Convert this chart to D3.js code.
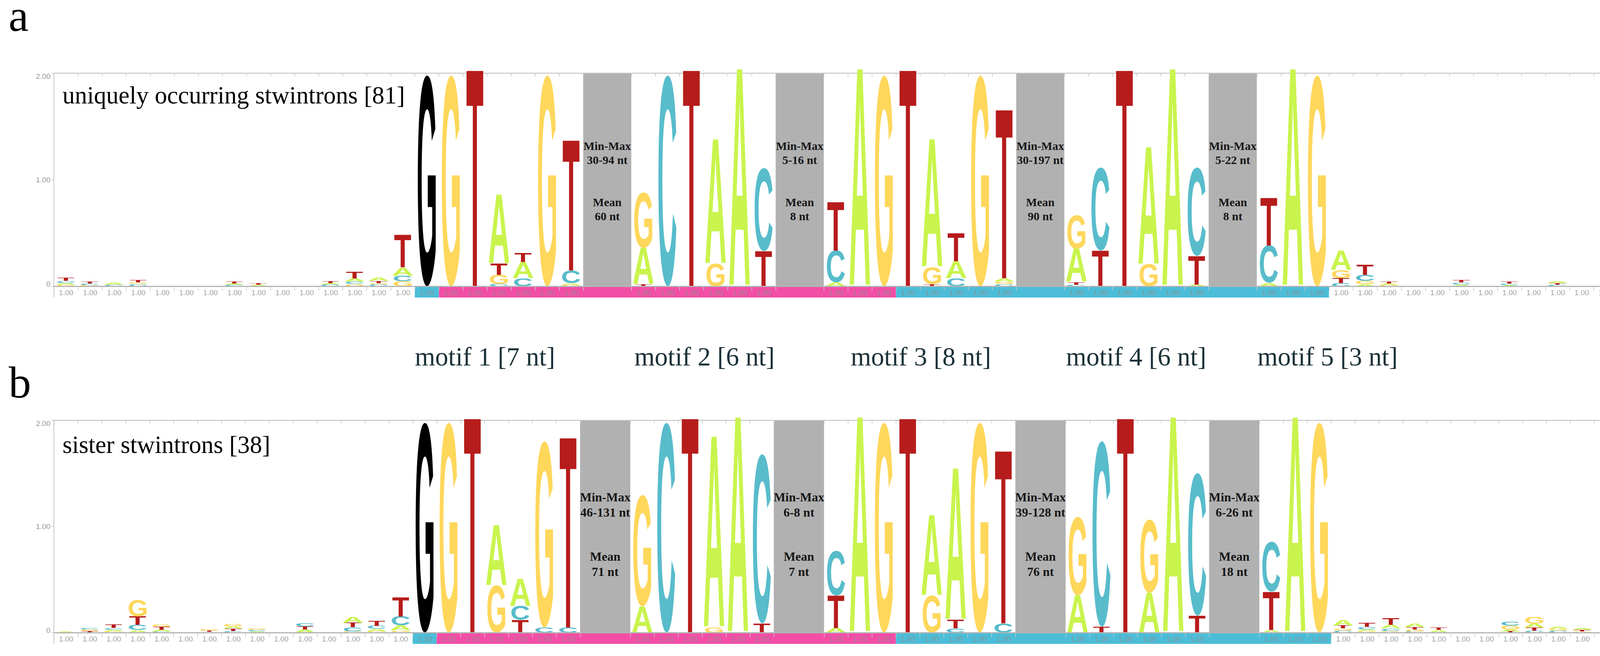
<!DOCTYPE html>
<html><head><meta charset="utf-8">
<script src="https://cdn.jsdelivr.net/npm/d3@7"></script>
<style>html,body{margin:0;padding:0;background:#fff} svg{display:block}</style>
</head><body>
<script>
// ---------------- DATA ----------------
// each column: stack of [letter, height in bits], listed bottom -> top
const preA = [
  [["G",.015],["A",.015],["C",.02],["T",.03]],
  [["G",.012],["C",.015],["T",.02]],
  [["C",.015],["A",.02]],
  [["C",.02],["G",.015],["T",.025]],
  [], [], [],
  [["C",.015],["A",.01],["T",.02]],
  [["A",.015],["T",.012]],
  [], [],
  [["C",.02],["A",.01],["T",.02]],
  [["G",.02],["C",.025],["A",.03],["T",.062]],
  [["C",.02],["G",.01],["T",.02],["A",.028]],
  [["G",.046],["C",.053],["A",.075],["T",.305]]
];
const motif1A = [
  [["G",1.98]], [["G",1.98]], [["T",2.04]],
  [["C",.022],["G",.084],["T",.107],["A",.65]],
  [["C",.075],["A",.153],["T",.083]],
  [["G",1.98]],
  [["G",.012],["A",.015],["C",.12],["T",1.23]]
];
const motif2A = [
  [["T",.02],["A",.34],["G",.52]],
  [["C",1.98]], [["T",2.04]],
  [["G",.21],["A",1.17]],
  [["A",2.04]],
  [["T",.33],["C",.78]]
];
const motif3A = [
  [["A",.035],["C",.30],["T",.46]],
  [["A",2.04]], [["G",1.98]], [["T",2.04]],
  [["T",.02],["G",.16],["A",1.2]],
  [["C",.075],["A",.16],["T",.265]],
  [["G",1.98]],
  [["C",.02],["G",.025],["A",.03],["T",1.59]]
];
const motif4A = [
  [["C",.015],["T",.025],["A",.31],["G",.315]],
  [["T",.335],["C",.78]],
  [["T",2.04]],
  [["G",.205],["A",1.1]],
  [["A",2.04]],
  [["A",.015],["T",.27],["C",.83]]
];
const motif5A = [
  [["A",.03],["C",.35],["T",.45]],
  [["A",2.04]], [["G",1.98]]
];
const postA = [
  [["C",.03],["T",.045],["G",.077],["A",.18]],
  [["A",.02],["G",.03],["C",.055],["T",.095]],
  [["G",.015],["A",.01],["T",.02]],
  [], [],
  [["A",.015],["C",.02],["T",.025]],
  [],
  [["A",.01],["C",.015],["T",.02]],
  [],
  [["C",.015],["T",.015],["A",.02]],
  [], [], [], [], []
];

const preB = [
  [["A",.01]],
  [["T",.015],["G",.016],["C",.016]],
  [["G",.012],["A",.015],["C",.016],["T",.033]],
  [["A",.025],["C",.049],["T",.08],["G",.156]],
  [["C",.01],["A",.017],["T",.028],["G",.025]],
  [],
  [["A",.006],["T",.012],["G",.012]],
  [["C",.015],["T",.022],["A",.022],["G",.025]],
  [["A",.01],["C",.015],["G",.015]],
  [],
  [["A",.03],["T",.028],["C",.027]],
  [],
  [["G",.012],["C",.039],["T",.04],["A",.058]],
  [["G",.012],["A",.025],["C",.027],["T",.049]],
  [["G",.02],["A",.047],["C",.085],["T",.178]]
];
const motif1B = [
  [["G",1.978]], [["G",1.978]], [["T",2.03]],
  [["G",.446],["A",.567]],
  [["T",.12],["C",.128],["A",.255]],
  [["C",.048],["G",1.757]],
  [["C",.048],["T",1.798]]
];
const motif2B = [
  [["A",.247],["G",1.05]],
  [["C",1.978]], [["T",2.03]],
  [["G",.048],["A",1.8]],
  [["A",2.03]],
  [["T",.087],["C",1.595]]
];
const motif3B = [
  [["A",.04],["T",.31],["C",.42]],
  [["A",2.03]], [["G",1.978]], [["T",2.03]],
  [["G",.35],["A",.757]],
  [["C",.04],["T",.08],["A",1.427]],
  [["G",1.978]],
  [["C",.087],["T",1.634]]
];
const motif4B = [
  [["A",.35],["G",.74]],
  [["T",.055],["C",1.75]],
  [["T",2.03]],
  [["A",.375],["G",.69]],
  [["A",2.03]],
  [["T",.16],["C",1.343]]
];
const motif5B = [
  [["A",.024],["T",.362],["C",.47]],
  [["A",2.03]], [["G",1.978]]
];
const postB = [
  [["C",.018],["G",.021],["T",.028],["A",.053]],
  [["G",.015],["A",.015],["C",.025],["T",.037]],
  [["G",.015],["C",.025],["A",.034],["T",.061]],
  [["C",.012],["G",.018],["T",.021],["A",.032]],
  [["A",.025],["T",.025]],
  [], [],
  [["T",.012],["A",.018],["G",.037],["C",.037]],
  [["C",.018],["T",.028],["A",.039],["G",.064]],
  [["C",.018],["G",.018],["A",.018]],
  [["G",.01],["T",.015],["A",.016]],
  [],
  [["C",.01],["A",.012],["T",.029],["G",.028]],
  [["T",.018],["C",.043],["G",.059],["A",.1]],
  []
];

const gapRangeA = ["30-94 nt","5-16 nt","30-197 nt","5-22 nt"];
const gapMeanA  = ["60 nt","8 nt","90 nt","8 nt"];
const gapRangeB = ["46-131 nt","6-8 nt","39-128 nt","6-26 nt"];
const gapMeanB  = ["71 nt","7 nt","76 nt","18 nt"];

const motifLabels = ["motif 1 [7 nt]","motif 2 [6 nt]","motif 3 [8 nt]","motif 4 [6 nt]","motif 5 [3 nt]"];
const titleA = "uniquely occurring stwintrons [81]";
const titleB = "sister stwintrons [38]";
const yTicks = [0, 1, 2];
const occupancyLabel = "1.00";
// column-index ranges of the coloured strip under the axis
const stripBands = [[15,15,"blue"],[16,30,"pink"],[31,44,"blue"]];

// ---------------- STYLE ----------------
const W = 4368, H = 1680;
const letterColor = {A:"#c9f44d", C:"#58bccb", G:"#fed75b", T:"#b61c1b"};
const letterWidth = {A:0.86, C:0.75, G:0.75, T:0.70};
const stripColor = {blue:"#4cbdd8", pink:"#f24ea6"};
const LETTER_FONT = "'Liberation Sans', Arial, sans-serif";
const SERIF = "'Liberation Serif', 'Times New Roman', serif";
const SANS = "'Liberation Sans', Arial, sans-serif";

const svg = d3.select("body").append("svg").attr("width", W).attr("height", H);
svg.append("rect").attr("width", W).attr("height", H).attr("fill", "#fff");

// tight ink boxes of glyphs
const ctx = document.createElement("canvas").getContext("2d");
ctx.font = `bold 200px ${LETTER_FONT}`;
const ink = {};
["A","C","G","T"].forEach(L => {
  const m = ctx.measureText(L);
  ink[L] = {l: -m.actualBoundingBoxLeft, r: m.actualBoundingBoxRight,
            t: -m.actualBoundingBoxAscent, b: m.actualBoundingBoxDescent};
});

function drawPanel(cfg) {
  const g = svg.append("g");
  const segs = [cfg.pre, ...cfg.motifs, cfg.post];
  const cols = [], gaps = [];
  let u = 0;
  segs.forEach((seg, si) => {
    seg.forEach(stack => { cols.push({stack, u0: u}); u += 1; });
    if (si >= 1 && si <= 4) { gaps.push({u0: u, u1: u + cfg.gapW}); u += cfg.gapW; }
  });
  const x = d3.scaleLinear().domain([0, u]).range([138, 4326]);
  const y = d3.scaleLinear().domain([0, 2]).range([cfg.base, cfg.top]);
  const colW = x(1) - x(0);

  // gray gap boxes
  g.selectAll("rect.gap").data(gaps).join("rect")
    .attr("x", d => x(d.u0)).attr("width", d => x(d.u1) - x(d.u0))
    .attr("y", cfg.top).attr("height", cfg.base - cfg.top)
    .attr("fill", "#b1b1b1");

  // coloured strip
  g.selectAll("rect.strip").data(stripBands).join("rect")
    .attr("x", d => x(cols[d[0]].u0)).attr("width", d => x(cols[d[1]].u0 + 1) - x(cols[d[0]].u0))
    .attr("y", cfg.base + 1).attr("height", 28)
    .attr("fill", d => stripColor[d[2]]);

  const bounds = Array.from(new Set(cols.flatMap(c => [c.u0, c.u0 + 1])));

  // top frame line + ticks
  const top = g.append("g").attr("transform", `translate(0,${cfg.top})`)
    .call(d3.axisBottom(x).tickValues(bounds).tickSize(9).tickSizeOuter(0).tickFormat(""));
  top.select(".domain").attr("stroke", "#c6c6c6").attr("stroke-width", 2.5);
  top.selectAll(".tick line").attr("stroke", "#c6c6c6").attr("stroke-width", 1.5);

  // letters
  cols.forEach((c, ci) => {
    let acc = 0;
    c.stack.forEach(([L, v]) => {
      const y0 = y(acc + v), y1 = y(acc);
      acc += v;
      const h = y1 - y0;
      if (h <= 0) return;
      const w = letterWidth[L] * colW;
      const x0 = x(c.u0 + 0.5) - w / 2;
      const b = ink[L];
      g.append("text")
        .attr("font-family", LETTER_FONT).attr("font-weight", "bold").attr("font-size", 200)
        .attr("fill", (ci === 15 && L === "G") ? "#000" : letterColor[L])
        .attr("transform", `translate(${x0},${y0}) scale(${w/(b.r-b.l)},${h/(b.b-b.t)}) translate(${-b.l},${-b.t})`)
        .text(L);
    });
  });

  // baseline + lower ticks
  const bot = g.append("g").attr("transform", `translate(0,${cfg.base})`)
    .call(d3.axisBottom(x).tickValues(bounds).tickSize(12).tickSizeOuter(0).tickFormat(""));
  bot.select(".domain").attr("stroke", "#b4b4b4").attr("stroke-width", 3);
  bot.selectAll(".tick line").attr("stroke", "#c8c8c8").attr("stroke-width", 1.5);

  // occupancy labels
  const lab = g.append("g").attr("transform", `translate(0,${cfg.base})`)
    .call(d3.axisBottom(x).tickValues(cols.map(c => c.u0 + 0.5)).tickSize(0).tickFormat(() => occupancyLabel));
  lab.select(".domain").remove();
  lab.selectAll("text").attr("y", 16).attr("dy", "0.35em")
    .attr("font-family", SANS).attr("font-size", 19).attr("fill", "#8f8f8f").attr("fill-opacity", 0.85);

  // y axis
  g.append("line").attr("x1", 138).attr("x2", 138).attr("y1", cfg.top).attr("y2", cfg.base + 28)
    .attr("stroke", "#c6c6c6").attr("stroke-width", 2);
  const ya = g.append("g").attr("transform", "translate(138,0)")
    .call(d3.axisLeft(y).tickValues(yTicks).tickSize(6).tickSizeOuter(0)
      .tickFormat(d => d === 0 ? "0" : d3.format(".2f")(d)));
  ya.select(".domain").remove();
  ya.selectAll(".tick line").attr("stroke", "#b8b8b8").attr("stroke-width", 1.5);
  ya.selectAll("text").attr("font-family", SANS).attr("font-size", 19).attr("fill", "#999")
    .attr("dy", d => d === 2 ? "0.74em" : d === 0 ? "0.02em" : "0.32em");

  // gap annotations
  gaps.forEach((gp, i) => {
    const lines = ["Min-Max", cfg.gapRange[i], "Mean", cfg.gapMean[i]];
    const cx = x((gp.u0 + gp.u1) / 2);
    lines.forEach((t, k) => {
      g.append("text").attr("x", cx).attr("y", cfg.top + cfg.gapTextY[k])
        .attr("text-anchor", "middle").attr("font-family", SERIF).attr("font-weight", "bold")
        .attr("font-size", cfg.gapFont).attr("fill", "#161616").text(t);
    });
  });

  // subtitle
  g.append("text").attr("x", 160).attr("y", cfg.titleY)
    .attr("font-family", SERIF).attr("font-size", 63).attr("fill", "#000").text(cfg.title);

  // panel letter
  g.append("text").attr("x", 22).attr("y", cfg.letterY)
    .attr("font-family", SERIF).attr("font-size", 115).attr("fill", "#000").text(cfg.letter);
}

drawPanel({pre: preA, motifs: [motif1A, motif2A, motif3A, motif4A, motif5A], post: postA,
  top: 187, base: 733, gapW: 2.0, gapRange: gapRangeA, gapMean: gapMeanA,
  gapTextY: [197, 233, 341, 377], gapFont: 30, title: titleA, titleY: 265, letter: "a", letterY: 79});
drawPanel({pre: preB, motifs: [motif1B, motif2B, motif3B, motif4B, motif5B], post: postB,
  top: 1076, base: 1620, gapW: 2.1, gapRange: gapRangeB, gapMean: gapMeanB,
  gapTextY: [207.5, 246.5, 359.5, 398.5], gapFont: 32, title: titleB, titleY: 1160, letter: "b", letterY: 1018});

// motif labels between panels
const motifX = [1062, 1624, 2178, 2729, 3219];
svg.append("g").selectAll("text").data(motifLabels).join("text")
  .attr("x", (d, i) => motifX[i]).attr("y", 936)
  .attr("font-family", SERIF).attr("font-size", 67).attr("fill", "#1b3139").text(d => d);
</script>
</body></html>
